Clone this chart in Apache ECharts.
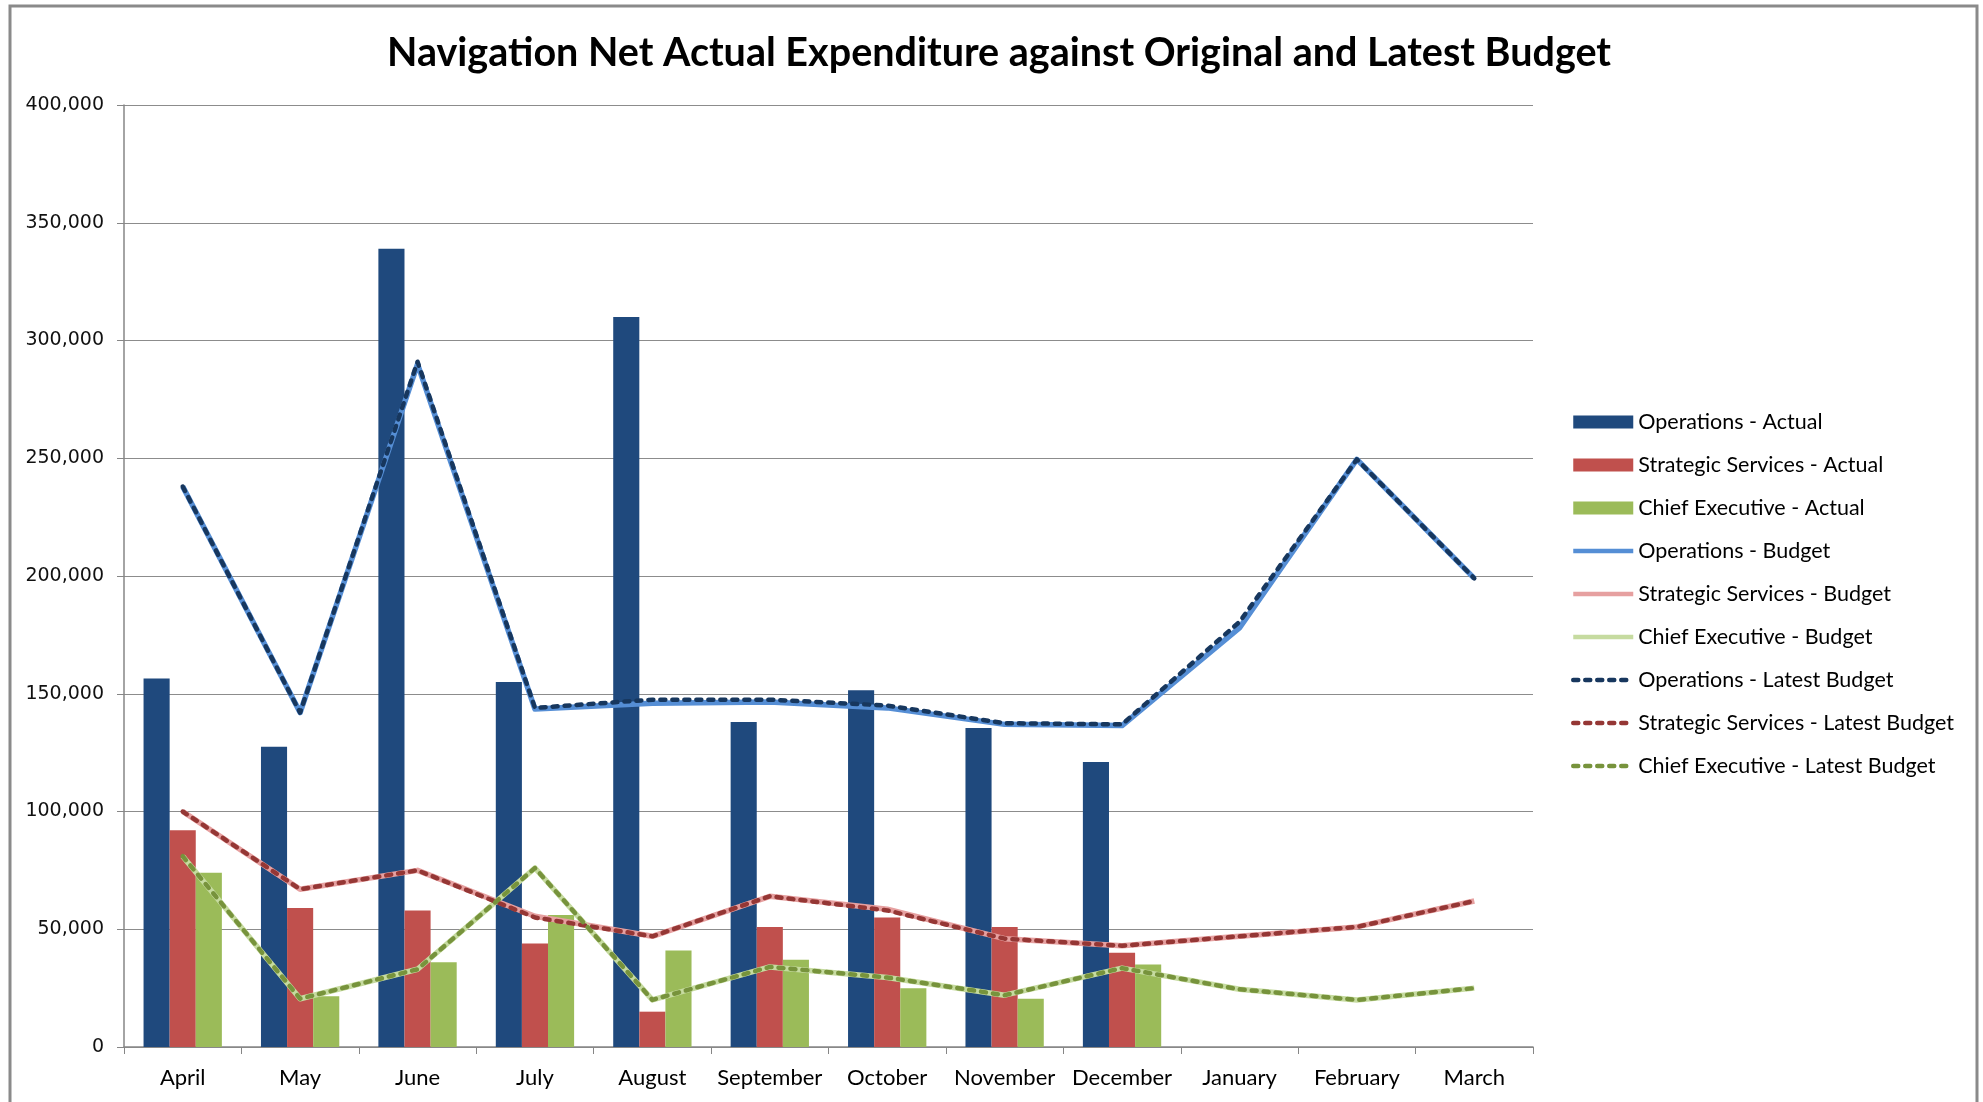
<!DOCTYPE html>
<html>
<head>
<meta charset="utf-8">
<script src="https://cdn.jsdelivr.net/npm/echarts@6/dist/echarts.min.js"></script>
<style>
html,body{margin:0;padding:0;background:#fff;}
#chart{width:1983px;height:1102px;}
</style>
</head>
<body>
<div id="chart"></div>
<script>
const months = ['April','May','June','July','August','September','October','November','December','January','February','March'];
const yTicks = [0,50000,100000,150000,200000,250000,300000,350000,400000];

const opsActual = [156500,127500,339000,155000,310000,138000,151500,135500,121000,null,null,null];
const ssActual  = [92000,59000,58000,44000,15000,51000,55000,51000,40000,null,null,null];
const ceActual  = [74000,21500,36000,56000,41000,37000,25000,20500,35000,null,null,null];

const opsBudget = [238000,142000,290000,143500,146000,146500,144000,137000,136500,178000,249500,199000];
const ssBudget  = [100000,67000,75000,55500,47000,64000,58500,46000,43000,47000,51000,62000];
const ceBudget  = [81000,20500,33000,76000,20000,34000,29500,22000,33500,24500,20000,25000];

const opsLatest = [238000,142000,291000,144000,147500,147500,145000,137500,137000,180500,249500,199000];
const ssLatest  = [100000,67000,75000,55000,47000,64000,58000,46000,43000,47000,51000,62000];
const ceLatest  = [81000,20500,33000,76000,20000,34000,29500,22000,33500,24500,20000,25000];

const DASH_W = 4.5, SOLID_W = 5.5;
const chart = echarts.init(document.getElementById('chart'));
function bar(name, data, color){
  return {name, type:'bar', data, barGap:'0%', barCategoryGap:'33.3%', itemStyle:{color}, z:2};
}
function line(name, data, color, dashed){
  return {name, type:'line', data, symbol:'none', showSymbol:false, z: dashed?4:3,
    lineStyle:{color, width: dashed?DASH_W:SOLID_W, type: dashed?[5,7]:'solid', cap: dashed?'round':'butt', join:'round'},
    itemStyle:{color}};
}
const barNames = ['Operations - Actual','Strategic Services - Actual','Chief Executive - Actual'];
const lineNames = ['Operations - Budget','Strategic Services - Budget','Chief Executive - Budget','Operations - Latest Budget','Strategic Services - Latest Budget','Chief Executive - Latest Budget'];
const legendData = barNames.map(n => ({name:n, icon:'rect'}))
  .concat(lineNames.map(n => ({name:n,
    itemStyle:{color:'rgba(0,0,0,0)', borderWidth:0, opacity:0},
    lineStyle:{width:4.5}})));
const fmt = v => v.toLocaleString('en-US');
chart.setOption({
  animation:false,
  title:{text:'Navigation Net Actual Expenditure against Original and Latest Budget', left:994, top:48, textAlign:'center', textVerticalAlign:'middle',
    textStyle:{fontFamily:'Lato', fontWeight:'bold', fontSize:39.5, color:'#000'}},
  graphic:[{type:'rect', shape:{x:10,y:6,width:1967,height:1300}, style:{fill:'none', stroke:'#8a8a8a', lineWidth:3}, silent:true}],
  grid:{left:124, right:450, top:105, bottom:55, containLabel:false},
  legend:{orient:'vertical', left:1566, top:406, itemWidth:60, itemHeight:13, itemGap:21,
    lineStyle:{width:4.5},
    textStyle:{fontFamily:'Lato', fontSize:21.5, color:'#000', padding:[0,0,0,0]},
    data:legendData},
  xAxis:{type:'category', data:months, boundaryGap:true,
    axisLine:{lineStyle:{color:'#868686', width:1.5}},
    axisTick:{show:true, alignWithLabel:false, length:7, lineStyle:{color:'#868686'}},
    axisLabel:{fontFamily:'Lato', fontSize:22, color:'#000', margin:20, interval:0}},
  yAxis:{type:'value', min:0, max:400000, interval:50000,
    axisLine:{show:true, lineStyle:{color:'#868686', width:1.5}},
    axisTick:{show:true, length:7, lineStyle:{color:'#868686'}},
    splitLine:{lineStyle:{color:'#8c8c8c', width:1.2}},
    axisLabel:{fontFamily:'DejaVu Sans', fontSize:19, color:'#111', margin:20, formatter: v => yTicks.includes(v) ? fmt(v) : ''}},
  series:[
    bar(barNames[0], opsActual, '#1F497D'),
    bar(barNames[1], ssActual, '#C0504D'),
    bar(barNames[2], ceActual, '#9BBB59'),
    line(lineNames[0], opsBudget, '#558ED5', false),
    line(lineNames[1], ssBudget, '#E6A0A0', false),
    line(lineNames[2], ceBudget, '#C6DBA0', false),
    line(lineNames[3], opsLatest, '#17375E', true),
    line(lineNames[4], ssLatest, '#953735', true),
    line(lineNames[5], ceLatest, '#77933C', true)
  ]
});
</script>
</body>
</html>
